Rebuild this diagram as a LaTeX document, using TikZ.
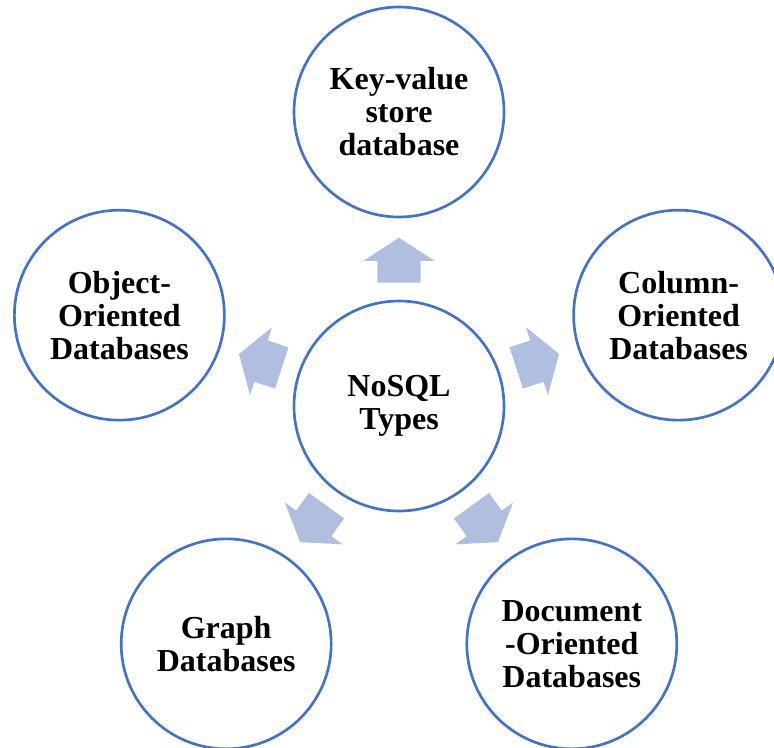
\documentclass[tikz,border=0pt]{standalone}
\usepackage{fontspec}
\setmainfont{Liberation Serif}
\usetikzlibrary{shapes.arrows}
\definecolor{ringblue}{HTML}{4472C4}
\definecolor{arrowfill}{HTML}{B0BEE0}

\begin{document}
\begin{tikzpicture}[x=0.75pt,y=0.75pt,
  dbtype/.style={circle,draw=ringblue,line width=2pt,fill=white,inner sep=0pt,
    minimum size=157.5pt,align=center,font=\fontsize{24}{24.75}\selectfont\bfseries},
  blockarrow/.style={single arrow,fill=arrowfill,draw=none,inner xsep=0pt,inner ysep=16.1pt,
    minimum height=33.75pt,single arrow head extend=10.5pt,
    single arrow tip angle=114,anchor=tail}]
\useasboundingbox (-399,-341) rectangle (375,406);
\node [dbtype] (nosql) at (0,0) {NoSQL\\Types};
\foreach \ang/\name/\txt in {90/kv/{Key-value\\store\\database},
                             18/col/{Column-\\Oriented\\Databases},
                             306/doc/{Document\\-Oriented\\Databases},
                             234/graph/{Graph\\Databases},
                             162/obj/{Object-\\Oriented\\Databases}}
{
  \node [dbtype] (\name) at (\ang:294) {\txt};
  \node [blockarrow,rotate=\ang] (a-\name) at (\ang:123) {};
}
\end{tikzpicture}
\end{document}
